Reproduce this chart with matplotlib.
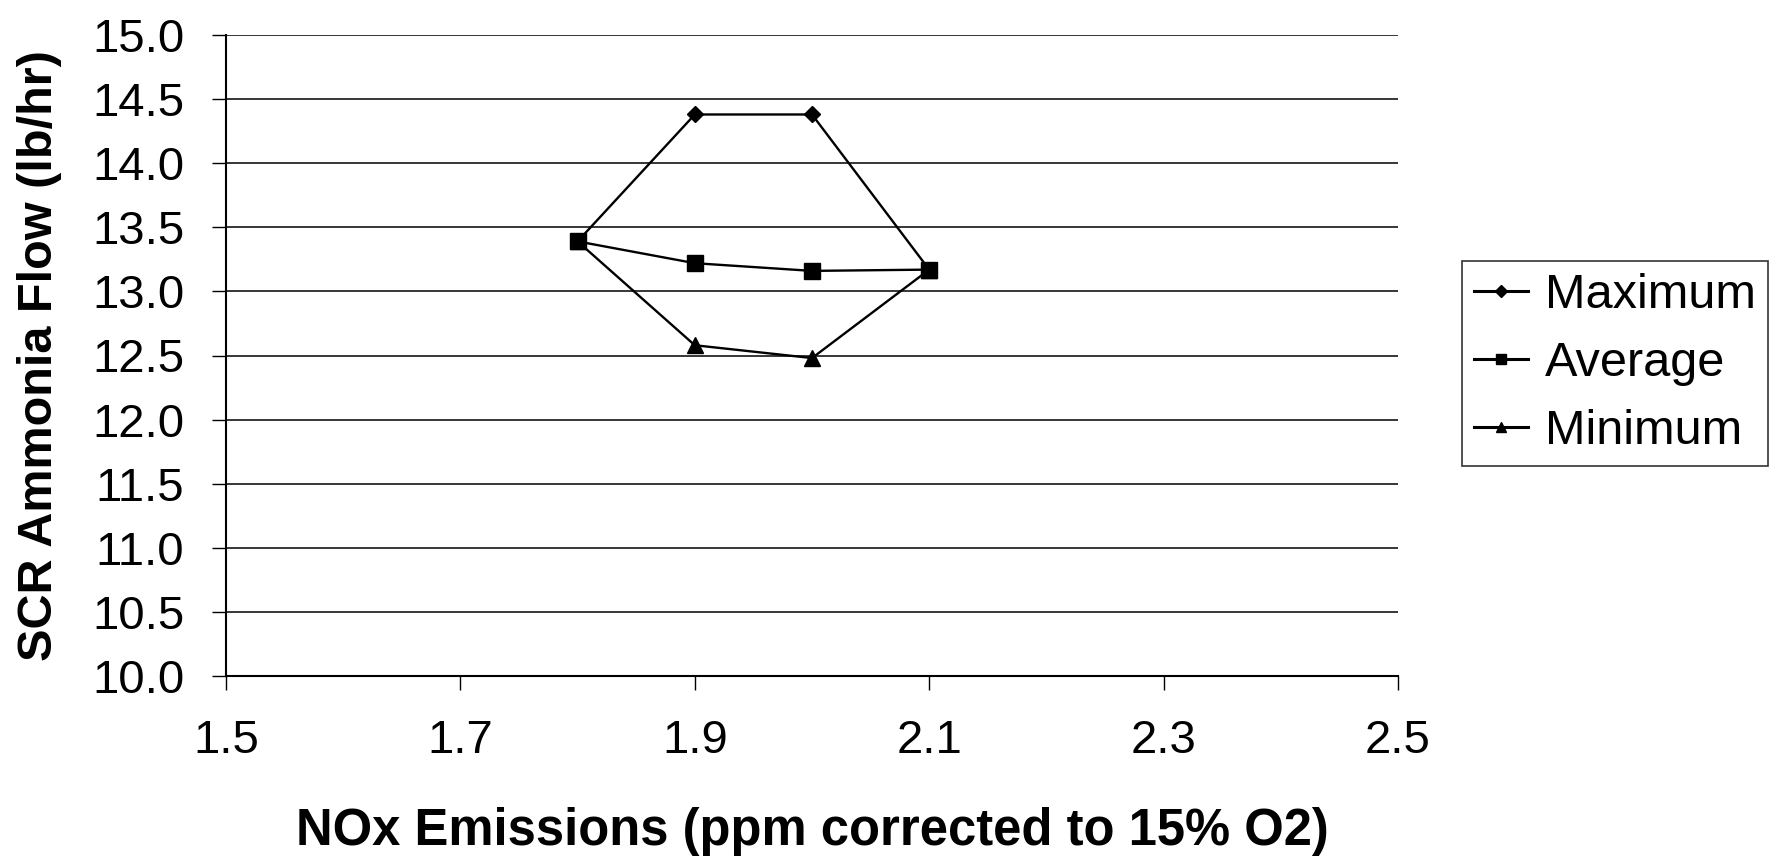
import matplotlib
matplotlib.use("Agg")
import matplotlib.pyplot as plt

plt.rcParams['font.family'] = ['Liberation Sans', 'DejaVu Sans']

nox = [1.8, 1.9, 2.0, 2.1]
maximum = [13.39, 14.38, 14.38, 13.17]
average = [13.39, 13.22, 13.16, 13.17]
minimum = [13.39, 12.58, 12.48, 13.17]

x_ticks = [1.5, 1.7, 1.9, 2.1, 2.3, 2.5]
y_ticks = [10.0, 10.5, 11.0, 11.5, 12.0, 12.5, 13.0, 13.5, 14.0, 14.5, 15.0]

fig = plt.figure(figsize=(17.71, 8.66), dpi=100)
# axes box in pixels: left 226, right 1398, top 35, bottom 676
ax = fig.add_axes([226 / 1771, 1 - 676 / 866, 1172 / 1771, 641 / 866])

ax.plot(nox, maximum, color='black', lw=1.7, marker='D', markersize=8.5, label='Maximum')
ax.plot(nox, average, color='black', lw=1.7, marker='s', markersize=11, label='Average')
ax.plot(nox, minimum, color='black', lw=1.7, marker='^', markersize=11, label='Minimum')

ax.set_xlim(1.5, 2.5)
ax.set_ylim(10.0, 15.0)
ax.set_xticks(x_ticks)
ax.set_xticklabels([f"{v:.1f}" for v in x_ticks])
ax.set_yticks(y_ticks)
ax.set_yticklabels([f"{v:.1f}" for v in y_ticks])
ax.tick_params(axis='both', labelsize=34, direction='out', length=10, width=1.0, color='black')
ax.tick_params(axis='x', pad=21)
ax.tick_params(axis='y', pad=20)

ax.grid(axis='y', color='black', linewidth=1.1)
ax.set_axisbelow(True)
for side in ['top', 'right']:
    ax.spines[side].set_visible(False)
for side in ['left', 'bottom']:
    ax.spines[side].set_linewidth(1.5)

ax.set_xlabel('NOx Emissions (ppm corrected to 15% O2)', fontsize=36.5, fontweight='bold', va='center')
ax.xaxis.set_label_coords(0.5, -0.242)
ax.set_ylabel('SCR Ammonia Flow (lb/hr)', fontsize=35, fontweight='bold', va='center')
ax.yaxis.set_label_coords(-0.159, 0.5)

leg = ax.legend(loc='upper left', bbox_to_anchor=(1462 / 1771, 1 - 261 / 866),
                bbox_transform=fig.transFigure, fontsize=35, frameon=True,
                fancybox=False, edgecolor='black', handlelength=1.1, handletextpad=0.35,
                borderpad=0.25, labelspacing=0.47, borderaxespad=0, markerscale=0.7)
leg.get_frame().set_linewidth(1.2)
for line in leg.get_lines():
    line.set_linewidth(2.2)

fig.savefig('out.png', dpi=100)
